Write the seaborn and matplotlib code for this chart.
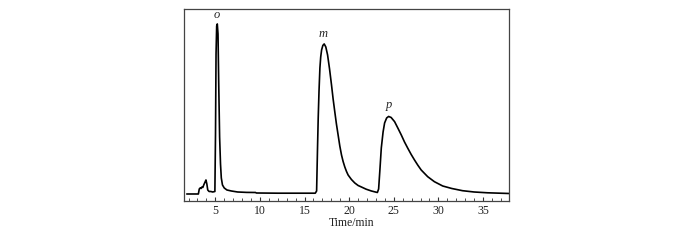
import matplotlib
matplotlib.use("Agg")
import matplotlib.pyplot as plt
import seaborn as sns
import pandas as pd
from matplotlib.ticker import MultipleLocator

# chromatogram (time in min, detector signal in arbitrary units)
time_min = [
    # start + small impurity peaks
    1.8, 3.1, 3.2, 3.3, 3.4, 3.5, 3.6, 3.7, 3.85, 3.95, 4.05, 4.15, 4.3, 4.5, 4.7, 4.95,
    # o
    5.02, 5.08, 5.15, 5.22, 5.3, 5.38, 5.48, 5.58, 5.67, 5.8, 6.0, 6.3, 6.8, 7.5, 8.5,
    9.5, 9.6, 12.0, 16.2,
    # m
    16.35, 16.45, 16.53, 16.62, 16.72, 16.81, 16.91, 17.05, 17.2, 17.38, 17.58, 17.8,
    18.02, 18.2, 18.39, 18.57, 18.76, 18.95, 19.14, 19.32, 19.51, 19.7, 19.88, 20.25,
    20.63, 21.0, 21.37, 21.9, 22.49, 23.16,
    # p
    23.3, 23.45, 23.6, 23.8, 23.97, 24.2, 24.42, 24.7, 25.09, 25.45, 25.84, 26.2,
    26.57, 26.95, 27.32, 27.7, 28.07, 28.45, 28.8, 29.55, 30.48, 31.5, 32.7, 34.0,
    35.5, 37.9,
]
signal = [
    0, 0, 5, 6, 5.5, 7, 6.5, 9, 12, 14, 10, 4, 2.5, 2.5, 2, 2.5,
    60, 140, 168, 170, 160, 110, 57, 30, 16, 9, 6, 4, 3, 2, 1.6,
    1.5, 1, 0.8, 0.8,
    3, 45, 76, 103, 126, 137, 144, 148.5, 150, 147, 139, 125,
    109, 95, 82, 70, 59, 48, 39, 32.5, 27, 22.5, 19, 14.5,
    11, 8.5, 7, 4.8, 3, 1.5,
    5, 25, 46, 62, 71, 76, 77.5, 76.5, 72.3, 66, 59, 52,
    45.7, 39.5, 34, 28.7, 24, 20.5, 17.3, 12.3, 8, 5.5, 3.3, 2,
    1.2, 0.5,
]

peak_labels = ["o", "m", "p"]
peak_label_x = [5.2, 17.1, 24.4]
peak_label_y = [179, 160, 89]

df = pd.DataFrame({"time": time_min, "signal": signal})

sns.set_style("ticks")
plt.rcParams["font.family"] = ["Liberation Serif", "DejaVu Serif"]

fig = plt.figure(figsize=(7, 2.41), dpi=100)
ax = fig.add_axes([0.263, 0.166, 0.464, 0.797])

sns.lineplot(data=df, x="time", y="signal", ax=ax, color="black",
             linewidth=1.2, estimator=None, sort=False)

for lab, lx, ly in zip(peak_labels, peak_label_x, peak_label_y):
    ax.text(lx, ly, lab, ha="center", va="center", fontsize=9, style="italic")

ax.set_xlim(1.5, 37.9)
ax.set_ylim(-7, 185)
ax.xaxis.set_major_locator(MultipleLocator(5))
ax.xaxis.set_minor_locator(MultipleLocator(1))
ax.set_xticks([5, 10, 15, 20, 25, 30, 35])
ax.tick_params(axis="x", which="major", direction="in", length=3, width=0.8,
               labelsize=8.5, pad=3, colors="#333333", labelcolor="#222222")
ax.tick_params(axis="x", which="minor", direction="in", length=2, width=0.6,
               colors="#333333")
ax.set_yticks([])
ax.set_xlabel("Time/min", fontsize=8.5, color="#222222")
ax.xaxis.set_label_coords(0.516, -0.085)
ax.set_ylabel("")
for sp in ax.spines.values():
    sp.set_visible(True)
    sp.set_linewidth(0.9)
    sp.set_color("#444444")

fig.savefig("out.png", dpi=100, facecolor="white")
plt.close(fig)
